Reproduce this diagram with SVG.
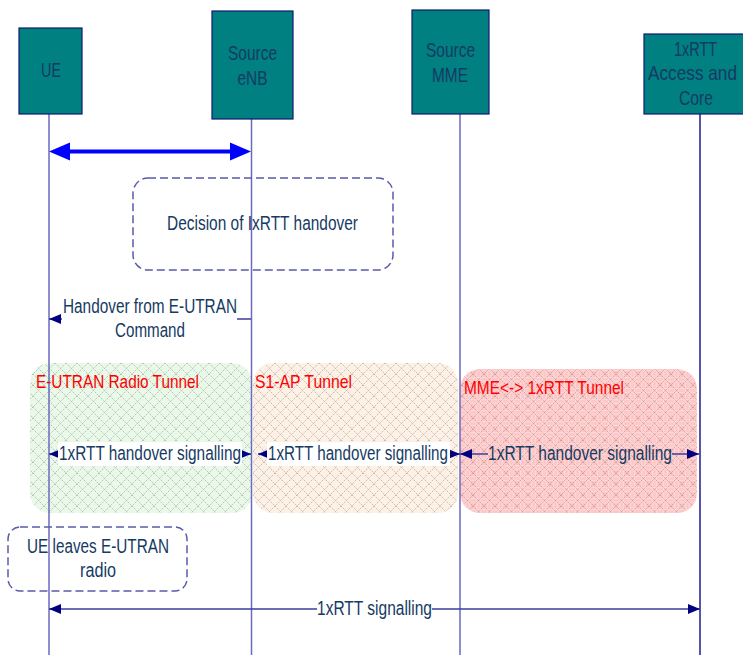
<svg xmlns="http://www.w3.org/2000/svg" width="743" height="655" viewBox="0 0 743 655">
<style>
.t{font-family:"Liberation Sans",Arial,sans-serif;fill:#153a63;font-size:20px}
.bx{font-size:21px;text-anchor:middle}
.red{fill:#ff0000;font-size:19px}
.node{fill:#008080;stroke:#101a70;stroke-width:1.2}
.life{stroke:#6a6ac0;stroke-width:1.5}
.msg{stroke:#3c3c9c;stroke-width:1.5;fill:none}
.dash{fill:none;stroke:#5a5aac;stroke-width:1.5;stroke-dasharray:8 4}
</style>
<defs>
<marker id="ah" viewBox="0 0 12 10" refX="12" refY="5" markerWidth="12" markerHeight="10" markerUnits="userSpaceOnUse" orient="auto-start-reverse"><path d="M0,0 L12,5 L0,10 z" fill="#000080"/></marker>
<pattern id="latG" width="11" height="11" patternUnits="userSpaceOnUse"><rect width="11" height="11" fill="#e8f9e8"/><path d="M0,0 L11,11 M11,0 L0,11" stroke="#b8b8b8" stroke-width="0.9" stroke-dasharray="1.5 1"/></pattern>
<pattern id="latP" width="11" height="11" patternUnits="userSpaceOnUse"><rect width="11" height="11" fill="#fdf1e6"/><path d="M0,0 L11,11 M11,0 L0,11" stroke="#bcb6b0" stroke-width="0.9" stroke-dasharray="1.5 1"/></pattern>
<pattern id="latR" width="11" height="11" patternUnits="userSpaceOnUse"><rect width="11" height="11" fill="#ffc6c6"/><path d="M0,3.67 H11 M0,7.33 H11 M3.67,0 V11 M7.33,0 V11" stroke="#ffe2e2" stroke-width="0.6"/><path d="M0,0 L11,11 M11,0 L0,11" stroke="#b8a4a4" stroke-width="0.9" stroke-dasharray="1.5 1"/></pattern>
</defs>
<rect width="743" height="655" fill="#ffffff"/>
<g id="tunnels">
<rect x="30" y="363" width="222" height="150" rx="20" fill="url(#latG)"/>
<rect x="253" y="363" width="205" height="150" rx="20" fill="url(#latP)"/>
<rect x="460" y="369" width="237" height="144" rx="20" fill="url(#latR)"/>
</g>
<g id="lifelines">
<line class="life" x1="49" y1="114" x2="49" y2="655"/>
<line class="life" x1="251.5" y1="119" x2="251.5" y2="655"/>
<line class="life" x1="460" y1="114" x2="460" y2="655"/>
<line x1="700" y1="114" x2="700" y2="655" stroke="#1c1c8c" stroke-width="1.5"/>
</g>
<g id="ue">
<rect class="node" x="19" y="28" width="63" height="86"/>
<text class="t bx" x="51" y="77" textLength="20" lengthAdjust="spacingAndGlyphs">UE</text>
</g>
<g id="enb">
<rect class="node" x="212" y="11" width="81" height="108"/>
<text class="t bx" x="252.5" y="60" textLength="49" lengthAdjust="spacingAndGlyphs">Source</text>
<text class="t bx" x="252.5" y="85" textLength="30" lengthAdjust="spacingAndGlyphs">eNB</text>
</g>
<g id="mme">
<rect class="node" x="412" y="10" width="77" height="104"/>
<text class="t bx" x="450.5" y="57" textLength="49" lengthAdjust="spacingAndGlyphs">Source</text>
<text class="t bx" x="450" y="82" textLength="36" lengthAdjust="spacingAndGlyphs">MME</text>
</g>
<g id="rtt">
<rect class="node" x="644" y="34" width="104" height="80"/>
<text class="t bx" x="695.5" y="56" textLength="43" lengthAdjust="spacingAndGlyphs">1xRTT</text>
<text class="t bx" x="692.5" y="80" textLength="89" lengthAdjust="spacingAndGlyphs">Access and</text>
<text class="t bx" x="696" y="105" textLength="34" lengthAdjust="spacingAndGlyphs">Core</text>
</g>
<g id="decision">
<rect class="dash" x="133" y="178" width="260" height="92" rx="15"/>
<text class="t" x="167" y="230" font-size="19" textLength="191" lengthAdjust="spacingAndGlyphs">Decision of IxRTT handover</text>
</g>
<g id="ueleaves">
<rect class="dash" x="8" y="527" width="179" height="64" rx="12"/>
<text class="t" x="98" y="553" text-anchor="middle" textLength="142" lengthAdjust="spacingAndGlyphs">UE leaves E-UTRAN</text>
<text class="t" x="98" y="577" text-anchor="middle" textLength="36" lengthAdjust="spacingAndGlyphs">radio</text>
</g>
<g id="tunnel-labels">
<text class="t red" x="36" y="388" textLength="163" lengthAdjust="spacingAndGlyphs">E-UTRAN Radio Tunnel</text>
<text class="t red" x="255" y="388" textLength="97" lengthAdjust="spacingAndGlyphs">S1-AP Tunnel</text>
<text class="t red" x="464" y="394" textLength="160" lengthAdjust="spacingAndGlyphs">MME&lt;-&gt; 1xRTT Tunnel</text>
</g>
<g id="connectors">
<line x1="66" y1="151.5" x2="235" y2="151.5" stroke="#0000ff" stroke-width="4"/>
<polygon points="49,151.5 70,142.5 70,160.5" fill="#0000ff"/>
<polygon points="251,151.5 230,142.5 230,160.5" fill="#0000ff"/>
<line class="msg" x1="251" y1="319" x2="49" y2="319" marker-end="url(#ah)"/>
<rect x="62" y="296" width="175" height="46" fill="#ffffff"/>
<text class="t" x="150" y="313" text-anchor="middle" textLength="174" lengthAdjust="spacingAndGlyphs">Handover from E-UTRAN</text>
<text class="t" x="150" y="337" text-anchor="middle" textLength="70" lengthAdjust="spacingAndGlyphs">Command</text>
<line class="msg" x1="49" y1="454" x2="251" y2="454" marker-start="url(#ah)" marker-end="url(#ah)"/>
<rect x="58" y="442" width="184" height="24" fill="#ffffff"/>
<text class="t" x="59" y="460" font-size="19" textLength="182" lengthAdjust="spacingAndGlyphs">1xRTT handover signalling</text>
<line class="msg" x1="258" y1="454" x2="460" y2="454" marker-start="url(#ah)" marker-end="url(#ah)"/>
<rect x="267" y="442" width="183" height="24" fill="#ffffff"/>
<text class="t" x="268" y="460" font-size="19" textLength="180" lengthAdjust="spacingAndGlyphs">1xRTT handover signalling</text>
<line class="msg" x1="460" y1="454" x2="488" y2="454" marker-start="url(#ah)"/>
<line class="msg" x1="672" y1="454" x2="699" y2="454" marker-end="url(#ah)"/>
<text class="t" x="488" y="460" font-size="19" textLength="184" lengthAdjust="spacingAndGlyphs">1xRTT handover signalling</text>
<line class="msg" x1="49" y1="609" x2="317" y2="609" marker-start="url(#ah)"/>
<line class="msg" x1="432" y1="609" x2="700" y2="609" marker-end="url(#ah)"/>
<text class="t" x="317" y="615" font-size="19" textLength="115" lengthAdjust="spacingAndGlyphs">1xRTT signalling</text>
</g>
</svg>
